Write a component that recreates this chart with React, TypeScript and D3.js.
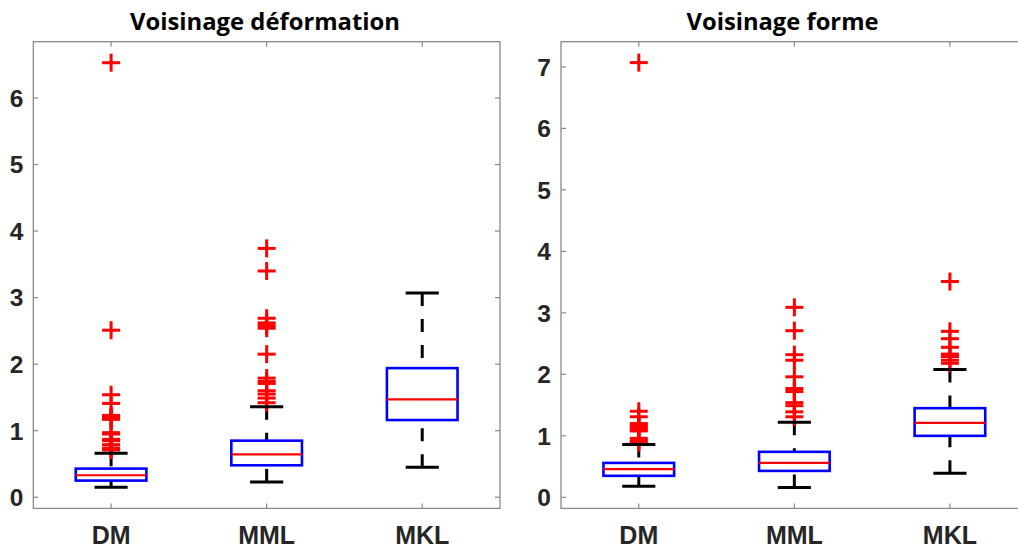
import React from "react";
import * as d3 from "d3";

const categories = ["DM", "MML", "MKL"];

// Panel 1: Voisinage déformation
const defTitle = "Voisinage déformation";
const defQ1 = [0.25, 0.48, 1.16];
const defMedian = [0.33, 0.645, 1.47];
const defQ3 = [0.43, 0.85, 1.94];
const defLow = [0.15, 0.23, 0.45];
const defHigh = [0.66, 1.36, 3.07];
const defOutDM = [6.53, 2.51, 1.54, 1.41, 1.23, 1.21, 1.19, 1.17, 0.97, 0.95, 0.87, 0.85, 0.79, 0.74, 0.71];
const defOutMML = [3.74, 3.4, 2.69, 2.62, 2.58, 2.54, 2.15, 1.79, 1.74, 1.71, 1.6, 1.55, 1.49, 1.42];
const defOutMKL: number[] = [];
const defTicks = [0, 1, 2, 3, 4, 5, 6];
const defYDomain = [-0.168, 6.846];

// Panel 2: Voisinage forme
const formTitle = "Voisinage forme";
const formQ1 = [0.35, 0.43, 1.0];
const formMedian = [0.46, 0.56, 1.21];
const formQ3 = [0.56, 0.74, 1.45];
const formLow = [0.18, 0.16, 0.39];
const formHigh = [0.86, 1.22, 2.08];
const formOutDM = [7.07, 1.4, 1.31, 1.2, 1.17, 1.14, 1.11, 1.08, 0.96, 0.92, 0.89];
const formOutMML = [3.09, 2.71, 2.32, 2.23, 1.96, 1.77, 1.72, 1.54, 1.49, 1.39, 1.31];
const formOutMKL = [3.51, 2.7, 2.58, 2.44, 2.33, 2.29, 2.23, 2.18];
const formTicks = [0, 1, 2, 3, 4, 5, 6, 7];
const formYDomain = [-0.18, 7.41];

type PanelProps = {
  title: string;
  titleX: number;
  titleLen: number;
  x0: number;
  x1: number;
  yDomain: number[];
  ticks: number[];
  q1: number[];
  med: number[];
  q3: number[];
  lo: number[];
  hi: number[];
  outliers: number[][];
};

const TOP = 41.7;
const BOTTOM = 508.4;
const AXIS_COLOR = "#8a8a8a";
const LABEL_COLOR = "#262626";

function Panel(p: PanelProps) {
  const x = d3.scaleLinear().domain([0.5, 3.5]).range([p.x0, p.x1]);
  const y = d3.scaleLinear().domain(p.yDomain).range([BOTTOM, TOP]);
  const unit = x(1) - x(0);
  const boxW = 0.454 * unit;
  const capW = 0.213 * unit;
  const cross = 9;
  return (
    <g>
      <text
        x={p.titleX}
        y={30}
        textAnchor="middle"
        fontFamily="'Open Sans', sans-serif"
        fontWeight="bold"
        fontSize={24}
        fill="#000"
        textLength={p.titleLen}
        lengthAdjust="spacingAndGlyphs"
      >
        {p.title}
      </text>
      <rect x={p.x0} y={TOP} width={p.x1 - p.x0} height={BOTTOM - TOP} fill="#fff" stroke={AXIS_COLOR} strokeWidth={1.3} />
      {p.ticks.map((t) => (
        <g key={"y" + t}>
          <line x1={p.x0} x2={p.x0 + 5} y1={y(t)} y2={y(t)} stroke={AXIS_COLOR} strokeWidth={1.2} />
          <line x1={p.x1} x2={p.x1 - 5} y1={y(t)} y2={y(t)} stroke={AXIS_COLOR} strokeWidth={1.2} />
          <text
            x={p.x0 - 10}
            y={y(t)}
            dy="0.36em"
            textAnchor="end"
            fontFamily="'Liberation Sans', Arial, sans-serif"
            fontWeight="bold"
            fontSize={24.5}
            fill={LABEL_COLOR}
          >
            {t}
          </text>
        </g>
      ))}
      {categories.map((c, i) => {
        const cx = x(i + 1);
        return (
          <g key={"x" + c}>
            <line x1={cx} x2={cx} y1={BOTTOM} y2={BOTTOM - 5} stroke={AXIS_COLOR} strokeWidth={1.2} />
            <line x1={cx} x2={cx} y1={TOP} y2={TOP + 5} stroke={AXIS_COLOR} strokeWidth={1.2} />
            <text
              x={cx}
              y={544}
              textAnchor="middle"
              fontFamily="'Liberation Sans', Arial, sans-serif"
              fontWeight="bold"
              fontSize={25}
              fill={LABEL_COLOR}
            >
              {c}
            </text>
          </g>
        );
      })}
      {categories.map((c, i) => {
        const cx = x(i + 1);
        return (
          <g key={"b" + c}>
            <line x1={cx} x2={cx} y1={y(p.hi[i])} y2={y(p.q3[i])} stroke="#000" strokeWidth={3} strokeDasharray="13,13" />
            <line x1={cx} x2={cx} y1={y(p.lo[i])} y2={y(p.q1[i])} stroke="#000" strokeWidth={3} strokeDasharray="13,13" />
            {p.outliers[i].map((v, j) => (
              <g key={j}>
                <line x1={cx - cross} x2={cx + cross} y1={y(v)} y2={y(v)} stroke="#ff0000" strokeWidth={3} />
                <line x1={cx} x2={cx} y1={y(v) - cross} y2={y(v) + cross} stroke="#ff0000" strokeWidth={3} />
              </g>
            ))}
            <line x1={cx - capW / 2} x2={cx + capW / 2} y1={y(p.hi[i])} y2={y(p.hi[i])} stroke="#000" strokeWidth={3} />
            <line x1={cx - capW / 2} x2={cx + capW / 2} y1={y(p.lo[i])} y2={y(p.lo[i])} stroke="#000" strokeWidth={3} />
            <rect
              x={cx - boxW / 2}
              y={y(p.q3[i])}
              width={boxW}
              height={y(p.q1[i]) - y(p.q3[i])}
              fill="none"
              stroke="#0000ff"
              strokeWidth={2.6}
            />
            <line x1={cx - boxW / 2} x2={cx + boxW / 2} y1={y(p.med[i])} y2={y(p.med[i])} stroke="#ff0000" strokeWidth={2.2} />
          </g>
        );
      })}
    </g>
  );
}

export default function App() {
  return (
    <div style={{ position: "absolute", left: 0, top: 0 }}>
      <svg width={1018} height={549} style={{ display: "block", background: "#fff" }}>
        <rect x={0} y={0} width={1018} height={549} fill="#fff" />
        <Panel
          title={defTitle}
          titleX={265}
          titleLen={270}
          x0={33.3}
          x1={500}
          yDomain={defYDomain}
          ticks={defTicks}
          q1={defQ1}
          med={defMedian}
          q3={defQ3}
          lo={defLow}
          hi={defHigh}
          outliers={[defOutDM, defOutMML, defOutMKL]}
        />
        <Panel
          title={formTitle}
          titleX={782.5}
          titleLen={192}
          x0={561}
          x1={1027.7}
          yDomain={formYDomain}
          ticks={formTicks}
          q1={formQ1}
          med={formMedian}
          q3={formQ3}
          lo={formLow}
          hi={formHigh}
          outliers={[formOutDM, formOutMML, formOutMKL]}
        />
      </svg>
    </div>
  );
}
